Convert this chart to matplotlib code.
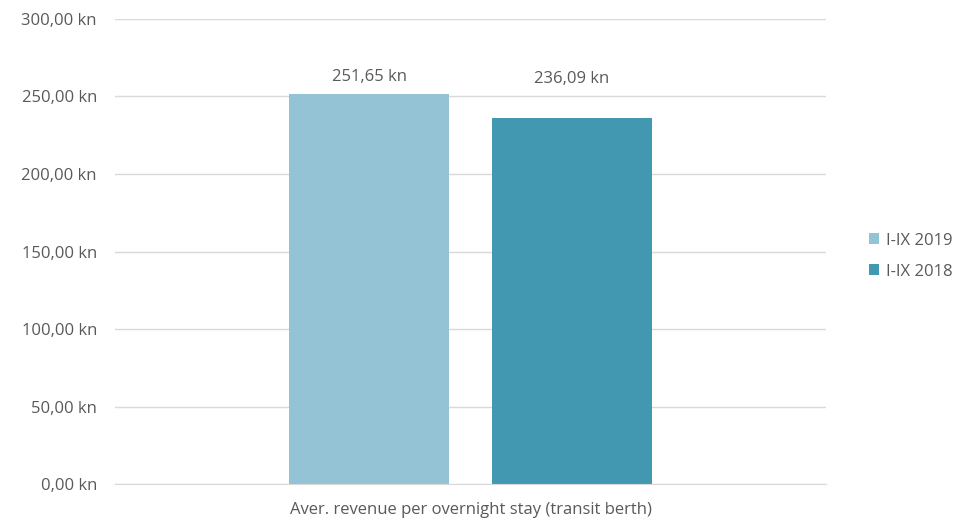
import numpy as np
import matplotlib.pyplot as plt
from matplotlib.ticker import FuncFormatter

category = 'Aver. revenue per overnight stay (transit berth)'
series = ['I-IX 2019', 'I-IX 2018']
values = [251.65, 236.09]
colors = ['#93c3d4', '#4298b0']

plt.rcParams['font.family'] = ['Open Sans', 'DejaVu Sans']
txt = '#595959'
fs = 12

def kn(v):
    return ('%.2f' % v).replace('.', ',') + ' kn'

fig = plt.figure(figsize=(9.75, 5.19), dpi=100)
ax = fig.add_axes([0.118, 0.0674, 0.729, 0.896])

pos = [-0.285, 0.285]
label_y = [262.5, 261]
for p, v, c, s, ly in zip(pos, values, colors, series, label_y):
    ax.bar(p, v, width=0.45, color=c, label=s, zorder=2)
    ax.text(p, ly, kn(v), ha='center', va='center', fontsize=fs, color=txt)

ax.set_xlim(-1, 1)
ax.set_ylim(0, 300)
ax.set_yticks(np.arange(0, 301, 50))
ax.yaxis.set_major_formatter(FuncFormatter(lambda v, _: kn(v)))
ax.set_xticks([0])
ax.set_xticklabels([category])
ax.tick_params(axis='y', length=0, pad=13, labelsize=fs, labelcolor=txt)
ax.tick_params(axis='x', length=0, pad=13, labelsize=fs, labelcolor=txt)
ax.grid(axis='y', color='#d9d9d9', lw=1, zorder=0)
for s in ['top', 'right', 'left']:
    ax.spines[s].set_visible(False)
ax.spines['bottom'].set_color('#d9d9d9')

leg = ax.legend(loc='center left', bbox_to_anchor=(1.04, 0.49), frameon=False,
                fontsize=fs, handlelength=0.6, handleheight=0.6,
                handletextpad=0.4, labelspacing=0.9)
for t in leg.get_texts():
    t.set_color(txt)

fig.savefig('out.png', dpi=100)
